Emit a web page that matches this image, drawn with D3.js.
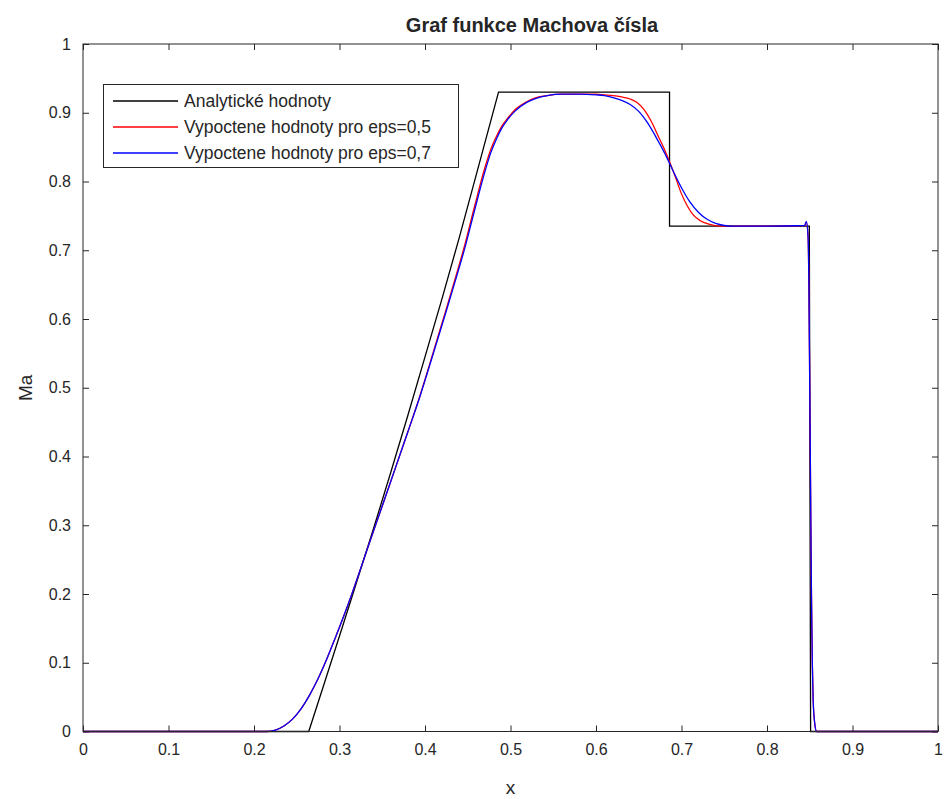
<!DOCTYPE html>
<html><head><meta charset="utf-8">
<script src="https://cdn.jsdelivr.net/npm/d3@7"></script>
<style>body{margin:0;background:#fff}svg{display:block}text{font-family:"Liberation Sans",Arial,sans-serif;fill:#262626}</style>
</head><body><svg id="c" width="944" height="799"></svg>
<script>
const title = "Graf funkce Machova čísla";
const xLabel = "x", yLabel = "Ma";
const xTicks = [0,0.1,0.2,0.3,0.4,0.5,0.6,0.7,0.8,0.9,1];
const yTicks = [0,0.1,0.2,0.3,0.4,0.5,0.6,0.7,0.8,0.9,1];
const seriesNames = ["Analytické hodnoty","Vypoctene hodnoty pro eps=0,5","Vypoctene hodnoty pro eps=0,7"];
const seriesColors = ["#000000","#ff0000","#0000ff"];

const analyticX = [0,0.264,0.283,0.30,0.32,0.34,0.36,0.38,0.40,0.42,0.44,0.46,0.486,0.686,0.686,0.8495,0.851,1];
const analyticY = [0,0,0.073,0.139,0.217,0.296,0.377,0.460,0.545,0.630,0.718,0.810,0.930,0.930,0.735,0.735,0,0];

const riseX = [0,0.215,0.225,0.235,0.245,0.255,0.265,0.275,0.285,0.295,0.305,0.315,0.325,0.336,0.35,0.365,0.38,0.394,0.41,0.425,0.437,0.447,0.458,0.470,0.477,0.484,0.49,0.496,0.505,0.519,0.53,0.543,0.56,0.58,0.60];
const blueRiseY = [0,0,0.002,0.008,0.018,0.033,0.053,0.077,0.105,0.136,0.168,0.202,0.238,0.278,0.328,0.382,0.436,0.487,0.551,0.612,0.662,0.705,0.758,0.814,0.842,0.863,0.878,0.889,0.902,0.915,0.921,0.925,0.927,0.927,0.926];
const redRiseY  = [0,0,0.002,0.008,0.018,0.033,0.053,0.077,0.105,0.136,0.168,0.202,0.238,0.278,0.328,0.382,0.436,0.488,0.553,0.615,0.666,0.710,0.764,0.820,0.847,0.867,0.881,0.891,0.904,0.916,0.922,0.925,0.927,0.927,0.927];
const redTailX = [0.61,0.62,0.63,0.64,0.648,0.656,0.664,0.672,0.68,0.6866,0.693,0.700,0.707,0.714,0.722,0.732,0.745,0.80,0.844,0.846,0.848,0.849,0.850,0.851,0.852,0.853,0.854,0.856,0.858,1];
const redTailY = [0.926,0.925,0.923,0.920,0.915,0.905,0.889,0.868,0.847,0.827,0.806,0.782,0.764,0.751,0.743,0.738,0.735,0.735,0.736,0.741,0.720,0.650,0.500,0.350,0.200,0.100,0.045,0.010,0,0];
const blueTailX = [0.61,0.62,0.63,0.64,0.65,0.66,0.67,0.68,0.69,0.70,0.71,0.72,0.73,0.74,0.75,0.76,0.80,0.844,0.846,0.848,0.849,0.850,0.851,0.852,0.853,0.854,0.856,0.858,1];
const blueTailY = [0.925,0.922,0.918,0.912,0.902,0.886,0.865,0.842,0.816,0.791,0.770,0.755,0.745,0.739,0.736,0.735,0.735,0.736,0.742,0.720,0.650,0.500,0.350,0.200,0.100,0.045,0.010,0,0];

const svg = d3.select("#c");
const L=83,R=938,T=44,B=731.5;
const x = d3.scaleLinear().domain([0,1]).range([L,R]);
const y = d3.scaleLinear().domain([0,1]).range([B,T]);

const ax = "#262626";
const g = svg.append("g");
g.append("g").attr("transform",`translate(0,${B})`).call(d3.axisBottom(x).tickValues(xTicks).tickFormat(d3.format("")).tickSizeInner(-6).tickSizeOuter(0).tickPadding(12));
g.append("g").attr("transform",`translate(0,${T})`).call(d3.axisTop(x).tickValues(xTicks).tickFormat("").tickSizeInner(-6).tickSizeOuter(0));
g.append("g").attr("transform",`translate(${L},0)`).call(d3.axisLeft(y).tickValues(yTicks).tickFormat(d3.format("")).tickSizeInner(-6).tickSizeOuter(0).tickPadding(12));
g.append("g").attr("transform",`translate(${R},0)`).call(d3.axisRight(y).tickValues(yTicks).tickFormat("").tickSizeInner(-6).tickSizeOuter(0));
g.selectAll(".domain").remove();
g.selectAll(".tick line").attr("stroke",ax);
g.selectAll(".tick text").attr("font-size",16).attr("fill",ax).style("font-family",'"Liberation Sans",Arial,sans-serif');

const line = d3.line().x(d=>x(d[0])).y(d=>y(d[1]));
svg.append("clipPath").attr("id","cp").append("rect").attr("x",L).attr("y",T-2).attr("width",R-L).attr("height",B-T+4);
const data = [
  analyticX.map((v,i)=>[v,analyticY[i]]),
  riseX.map((v,i)=>[v,redRiseY[i]]).concat(redTailX.map((v,i)=>[v,redTailY[i]])),
  riseX.map((v,i)=>[v,blueRiseY[i]]).concat(blueTailX.map((v,i)=>[v,blueTailY[i]]))
];
const curves=[d3.curveLinear,d3.curveMonotoneX,d3.curveMonotoneX];
data.forEach((d,i)=>{
  svg.append("path").attr("d",line.curve(curves[i])(d)).attr("fill","none").attr("stroke",seriesColors[i]).attr("stroke-width",1.3).attr("clip-path","url(#cp)");
});

svg.append("rect").attr("x",L).attr("y",T).attr("width",R-L).attr("height",B-T).attr("fill","none").attr("stroke",ax).attr("stroke-width",1);

svg.append("text").attr("x",532).attr("y",32).attr("text-anchor","middle").attr("font-size",20).attr("font-weight","bold").attr("fill","#000").text(title);
svg.append("text").attr("x",(L+R)/2).attr("y",794).attr("text-anchor","middle").attr("font-size",19).text(xLabel);
svg.append("text").attr("transform",`translate(32,${(T+B)/2}) rotate(-90)`).attr("text-anchor","middle").attr("font-size",19).text(yLabel);

const lg = svg.append("g");
lg.append("rect").attr("x",103.5).attr("y",84.5).attr("width",355).attr("height",83).attr("fill","#fff").attr("stroke",ax).attr("stroke-width",1);
seriesNames.forEach((n,i)=>{
  const yy = 101 + i*26;
  lg.append("line").attr("x1",113).attr("x2",178).attr("y1",yy).attr("y2",yy).attr("stroke",seriesColors[i]).attr("stroke-width",1.3);
  lg.append("text").attr("x",184).attr("y",yy+6).attr("font-size",17.5).attr("fill","#000").text(n);
});
</script></body></html>
